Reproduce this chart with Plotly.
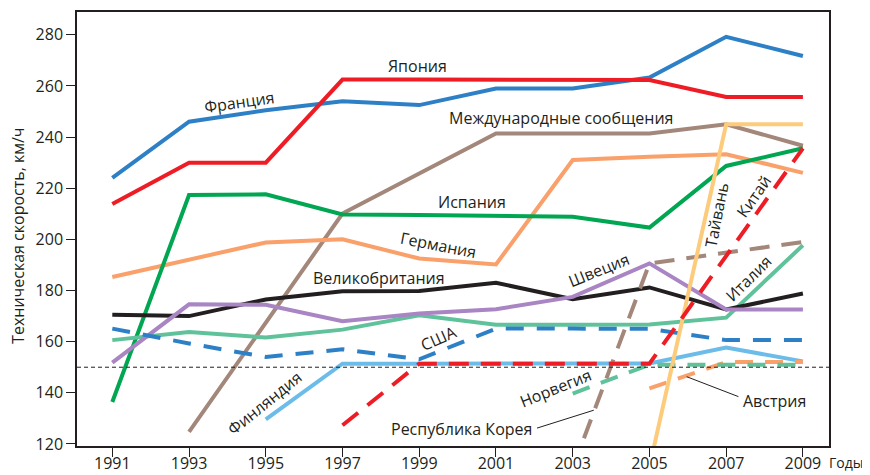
import plotly.graph_objects as go

years = [1991, 1993, 1995, 1997, 1999, 2001, 2003, 2005, 2007, 2009]
france = [224, 246, 250.5, 254, 252.5, 259, 259, 263.3, 279.2, 271.7]
japan = [213.8, 230, 230, 262.5, 262.5, 262.5, 262.5, 262.3, 255.7, 255.7]
spain = [136.4, 217.3, 217.6, 209.7, 209.5, 209.3, 208.8, 204.6, 228.7, 235.6]
germany = [185.3, 192.2, 198.8, 200, 192.5, 190.2, 231, 232.3, 233.3, 226]
uk = [170.5, 170, 176.5, 179.7, 179.8, 183, 176.6, 181.2, 172.6, 178.8]
sweden = [151.8, 174.6, 174.4, 168, 171, 172.7, 177.5, 190.6, 172.6, 172.6]
italy = [160.6, 163.8, 161.6, 164.7, 170.3, 166.6, 166.6, 166.7, 169.4, 197.7]
usa = [165.1, 159.3, 154, 157, 153.1, 165.1, 165.1, 165, 160.6, 160.6]

intl_years = [1993, 1997, 2001, 2005, 2007, 2009]
intl = [124.7, 210.1, 241.4, 241.4, 245, 236.6]
finland_years = [1995, 1997, 1999, 2001, 2003, 2005, 2007, 2009]
finland = [129.6, 151.4, 151.4, 151.4, 151.4, 151.5, 157.7, 152.3]
china_years = [1997, 1999, 2001, 2003, 2005, 2009]
china = [127.3, 151.4, 151.4, 151.4, 151.4, 235.6]
taiwan_years = [2005, 2007, 2009]
taiwan = [111, 245, 245]
korea_years = [2003, 2005, 2009]
korea = [110.5, 190.6, 199]
norway_years = [2003, 2005, 2007, 2009]
norway = [139.7, 151, 151, 151]
austria_years = [2005, 2007, 2009]
austria = [141.7, 152, 152]

y_ticks = [120, 140, 160, 180, 200, 220, 240, 260, 280]
x_ticks = years
threshold = 150

BLUE = "#2e80c6"
RED = "#ee1c25"
BROWN = "#a3877a"
GREEN = "#00a651"
ORANGE = "#f9a06b"
BLACK = "#231f20"
PURPLE = "#a985c3"
TEAL = "#60c29a"
LBLUE = "#6bbce9"
YELLOW = "#fdcb7c"
FONT = "Open Sans"

fig = go.Figure()


def add(x, y, color, dash="solid", width=4):
    fig.add_trace(go.Scatter(x=x, y=y, mode="lines",
                             line=dict(color=color, width=width, dash=dash),
                             showlegend=False, hoverinfo="skip"))


add(intl_years, intl, BROWN)
add(years, germany, ORANGE)
add(years, spain, GREEN)
add(years, france, BLUE)
add(years, japan, RED)
add(years, italy, TEAL)
add(years, uk, BLACK)
add(years, sweden, PURPLE)
add(years, usa, BLUE, dash="18px,13px")
add(finland_years, finland, LBLUE)
add(austria_years, austria, ORANGE, dash="18px,12px")
add(norway_years, norway, TEAL, dash="18px,12px")
add(korea_years, korea, BROWN, dash="20px,12px")
add(taiwan_years, taiwan, YELLOW)
add(china_years, china, RED, dash="20px,12px")

fig.add_shape(type="line", xref="paper", yref="y", x0=0, x1=1,
              y0=threshold, y1=threshold,
              line=dict(color=BLACK, width=1, dash="4px,3px"))

labels = [
    ("Франция", 1994.32, 253.7, -8),
    ("Япония", 1998.95, 267.9, 0),
    ("Международные сообщения", 2002.7, 247.4, 0),
    ("Испания", 2000.38, 214.7, 0),
    ("Германия", 1999.5, 197.8, 11),
    ("Великобритания", 1997.96, 185.0, 0),
    ("Швеция", 2003.68, 188.0, -22),
    ("США", 1999.52, 161.3, -24),
    ("Финляндия", 1994.97, 135.9, -39),
    ("Норвегия", 2002.56, 141.8, -22),
    ("Республика Корея", 2000.09, 125.7, 0),
    ("Австрия", 2008.26, 136.9, 0),
    ("Италия", 2007.59, 184.9, -45),
    ("Тайвань", 2006.75, 209.5, -79),
    ("Китай", 2007.72, 217.1, -55),
]
for text, lx, ly, ang in labels:
    fig.add_annotation(x=lx, y=ly, xref="x", yref="y", text=text,
                       showarrow=False, textangle=ang,
                       font=dict(family=FONT, size=16, color=BLACK),
                       xanchor="center", yanchor="middle")

# leader lines
fig.add_shape(type="line", xref="x", yref="y", x0=2002.07, y0=126.2,
              x1=2003.55, y1=133.2, line=dict(color=BLACK, width=1))
fig.add_shape(type="line", xref="x", yref="y", x0=2007.32, y0=138.5,
              x1=2005.97, y1=146.3, line=dict(color=BLACK, width=1))

fig.add_annotation(x=0.998, y=-0.037, xref="paper", yref="paper", text="Годы",
                   showarrow=False, xanchor="left", yanchor="middle",
                   font=dict(family=FONT, size=14, color=BLACK))
fig.add_annotation(x=-0.0785, y=0.484, xref="paper", yref="paper",
                   text="Техническая скорость, км/ч", showarrow=False,
                   textangle=-90, xanchor="center", yanchor="middle",
                   font=dict(family=FONT, size=16, color=BLACK))

axis_common = dict(showline=True, linecolor=BLACK, linewidth=1.5, mirror=True,
                   ticks="outside", ticklen=9, tickwidth=1, tickcolor=BLACK,
                   showgrid=False, zeroline=False, automargin=False,
                   tickfont=dict(family=FONT, size=16, color=BLACK))

fig.update_xaxes(range=[1990.08, 2009.68], tickvals=x_ticks,
                 ticklabelstandoff=-7, **axis_common)
fig.update_yaxes(range=[119.2, 288.9], tickvals=y_ticks, **axis_common)

# the page body adds an 8px offset, so the figure is 8px smaller
fig.update_layout(width=862, height=467,
                  margin=dict(l=69, r=41, t=4, b=29, autoexpand=False),
                  plot_bgcolor="white", paper_bgcolor="white",
                  showlegend=False)

fig.write_html("out.html")
